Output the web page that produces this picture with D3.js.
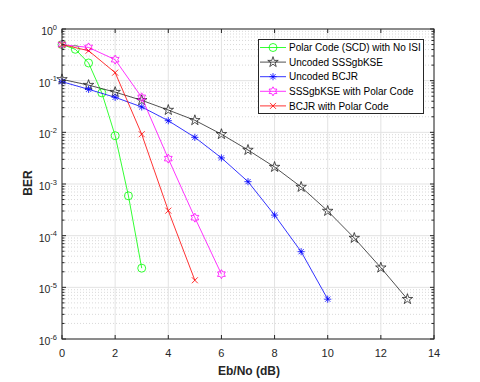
<!DOCTYPE html>
<html>
<head>
<meta charset="utf-8">
<script src="https://cdn.jsdelivr.net/npm/d3@7.9.0/dist/d3.min.js"></script>
<style>
  body { margin: 0; background: #fff; }
  svg { display: block; font-family: "Liberation Sans", Arial, sans-serif; }
</style>
</head>
<body>
<svg id="chart" width="480" height="382"></svg>
<script>
const seriesNames = [
  "Polar Code (SCD) with No ISI",
  "Uncoded SSSgbKSE",
  "Uncoded BCJR",
  "SSSgbKSE with Polar Code",
  "BCJR with Polar Code"
];

const polarX = [0, 0.5, 1, 1.5, 2, 2.5, 3];
const polarBer = [0.5, 0.405, 0.22, 0.058, 0.0086, 5.9e-4, 2.35e-5];

const sssX = [0, 1, 2, 3, 4, 5, 6, 7, 8, 9, 10, 11, 12, 13];
const sssBer = [0.106, 0.082, 0.060, 0.0417, 0.027, 0.0171, 0.0092, 0.00455, 0.00213, 8.75e-4, 3.0e-4, 9.0e-5, 2.4e-5, 5.9e-6];

const bcjrX = [0, 1, 2, 3, 4, 5, 6, 7, 8, 9, 10];
const bcjrBer = [0.0955, 0.068, 0.0476, 0.031, 0.0168, 0.008, 0.0032, 0.00111, 2.5e-4, 4.9e-5, 5.9e-6];

const sssPolarX = [0, 1, 2, 3, 4, 5, 6];
const sssPolarBer = [0.5, 0.44, 0.255, 0.0476, 0.0031, 2.23e-4, 1.8e-5];

const bcjrPolarX = [0, 1, 2, 3, 4, 5];
const bcjrPolarBer = [0.5, 0.38, 0.143, 0.0092, 3.05e-4, 1.37e-5];

const xTicks = [0, 2, 4, 6, 8, 10, 12, 14];
const yExponents = [0, -1, -2, -3, -4, -5, -6];

const series = [
  { name: seriesNames[0], x: polarX, y: polarBer, color: "#00ff00", marker: "circle" },
  { name: seriesNames[1], x: sssX, y: sssBer, color: "#262626", marker: "pentagram" },
  { name: seriesNames[2], x: bcjrX, y: bcjrBer, color: "#0000ff", marker: "asterisk" },
  { name: seriesNames[3], x: sssPolarX, y: sssPolarBer, color: "#ff00ff", marker: "hexagram" },
  { name: seriesNames[4], x: bcjrPolarX, y: bcjrPolarBer, color: "#ff0000", marker: "cross" }
];

const svg = d3.select("#chart");
const plot = { left: 62, right: 434, top: 29, bottom: 339 };
const axisColor = "#262626";
const lw = 0.8;

const x = d3.scaleLinear().domain([0, 14]).range([plot.left, plot.right]);
const y = d3.scaleLog().domain([1e-6, 1]).range([plot.bottom, plot.top]);

// minor grid (dotted)
const minorVals = [];
for (let e = -6; e < 0; e++) {
  for (let m = 2; m <= 9; m++) minorVals.push(m * Math.pow(10, e));
}
svg.append("g").selectAll("line")
  .data(minorVals)
  .join("line")
  .attr("x1", plot.left).attr("x2", plot.right)
  .attr("y1", d => y(d)).attr("y2", d => y(d))
  .attr("stroke", "#c8c8c8")
  .attr("stroke-width", 0.7)
  .attr("stroke-dasharray", "1,2");

// major grid
svg.append("g").selectAll("line")
  .data(yExponents)
  .join("line")
  .attr("x1", plot.left).attr("x2", plot.right)
  .attr("y1", d => y(Math.pow(10, d))).attr("y2", d => y(Math.pow(10, d)))
  .attr("stroke", "#e3e3e3")
  .attr("stroke-width", 1);

svg.append("g").selectAll("line")
  .data(xTicks)
  .join("line")
  .attr("x1", d => x(d)).attr("x2", d => x(d))
  .attr("y1", plot.top).attr("y2", plot.bottom)
  .attr("stroke", "#e3e3e3")
  .attr("stroke-width", 1);

// marker shapes
function markerPath(type) {
  if (type === "pentagram") {
    return d3.symbol().type(d3.symbolStar).size(34)();
  }
  if (type === "hexagram") {
    const pts = [];
    const ro = 4.5, ri = 2.6;
    for (let i = 0; i < 12; i++) {
      const a = -Math.PI / 2 + i * Math.PI / 6;
      const r = i % 2 === 0 ? ro : ri;
      pts.push([r * Math.cos(a), r * Math.sin(a)]);
    }
    return "M" + pts.map(p => p.join(",")).join("L") + "Z";
  }
  if (type === "asterisk") {
    const r = 3.6, d = 2.6;
    return `M${-r},0L${r},0M0,${-r}L0,${r}M${-d},${-d}L${d},${d}M${-d},${d}L${d},${-d}`;
  }
  if (type === "cross") {
    const d = 3;
    return `M${-d},${-d}L${d},${d}M${-d},${d}L${d},${-d}`;
  }
  return null;
}

function drawMarker(g, type, color) {
  if (type === "circle") {
    g.append("circle").attr("r", 4).attr("fill", "none").attr("stroke", color).attr("stroke-width", lw);
  } else {
    g.append("path").attr("d", markerPath(type)).attr("fill", "none").attr("stroke", color).attr("stroke-width", lw);
  }
}

const line = d3.line().x(d => x(d[0])).y(d => y(d[1]));

series.forEach(s => {
  const pts = s.x.map((v, i) => [v, s.y[i]]);
  svg.append("path")
    .datum(pts)
    .attr("fill", "none")
    .attr("stroke", s.color)
    .attr("stroke-width", lw)
    .attr("d", line);
  pts.forEach(p => {
    const g = svg.append("g").attr("transform", `translate(${x(p[0])},${y(p[1])})`);
    drawMarker(g, s.marker, s.color);
  });
});

// axes box
svg.append("rect")
  .attr("x", plot.left).attr("y", plot.top)
  .attr("width", plot.right - plot.left).attr("height", plot.bottom - plot.top)
  .attr("fill", "none")
  .attr("stroke", axisColor)
  .attr("stroke-width", 1);

// ticks
const tickG = svg.append("g").attr("stroke", axisColor).attr("stroke-width", 1);
xTicks.forEach(t => {
  tickG.append("line").attr("x1", x(t)).attr("x2", x(t)).attr("y1", plot.bottom).attr("y2", plot.bottom - 4);
  tickG.append("line").attr("x1", x(t)).attr("x2", x(t)).attr("y1", plot.top).attr("y2", plot.top + 4);
});
yExponents.forEach(e => {
  const yy = y(Math.pow(10, e));
  tickG.append("line").attr("x1", plot.left).attr("x2", plot.left + 4).attr("y1", yy).attr("y2", yy);
  tickG.append("line").attr("x1", plot.right).attr("x2", plot.right - 4).attr("y1", yy).attr("y2", yy);
});
minorVals.forEach(v => {
  const yy = y(v);
  tickG.append("line").attr("x1", plot.left).attr("x2", plot.left + 2.5).attr("y1", yy).attr("y2", yy);
  tickG.append("line").attr("x1", plot.right).attr("x2", plot.right - 2.5).attr("y1", yy).attr("y2", yy);
});

// tick labels
svg.append("g").selectAll("text")
  .data(xTicks)
  .join("text")
  .attr("x", d => x(d))
  .attr("y", 356.5)
  .attr("text-anchor", "middle")
  .attr("font-size", "11px")
  .attr("fill", axisColor)
  .text(d => d);

yExponents.forEach(e => {
  const yy = y(Math.pow(10, e));
  const t = svg.append("text")
    .attr("x", 57)
    .attr("y", yy + 6)
    .attr("text-anchor", "end")
    .attr("font-size", "10.5px")
    .attr("fill", axisColor);
  t.append("tspan").text("10");
  t.append("tspan")
    .attr("dy", -5.5)
    .attr("font-size", "7.5px")
    .text(e === 0 ? "0" : "-" + Math.abs(e));
});

// axis labels
svg.append("text")
  .attr("x", 249)
  .attr("y", 375)
  .attr("text-anchor", "middle")
  .attr("font-size", "12px")
  .attr("font-weight", "bold")
  .attr("fill", axisColor)
  .text("Eb/No (dB)");

svg.append("text")
  .attr("transform", "translate(32,183) rotate(-90)")
  .attr("text-anchor", "middle")
  .attr("font-size", "12px")
  .attr("font-weight", "bold")
  .attr("fill", axisColor)
  .text("BER");

// legend
const legend = svg.append("g");
legend.append("rect")
  .attr("x", 258.5).attr("y", 39.5)
  .attr("width", 165).attr("height", 74)
  .attr("fill", "#fff")
  .attr("stroke", axisColor)
  .attr("stroke-width", 1);

series.forEach((s, i) => {
  const yy = 47.5 + i * 14.6;
  legend.append("line")
    .attr("x1", 260).attr("x2", 286)
    .attr("y1", yy).attr("y2", yy)
    .attr("stroke", s.color)
    .attr("stroke-width", lw);
  const g = legend.append("g").attr("transform", `translate(273,${yy})`);
  drawMarker(g, s.marker, s.color);
  legend.append("text")
    .attr("x", 289)
    .attr("y", yy)
    .attr("dy", "0.36em")
    .attr("font-size", "10px")
    .attr("fill", "#000")
    .text(s.name);
});
</script>
</body>
</html>
